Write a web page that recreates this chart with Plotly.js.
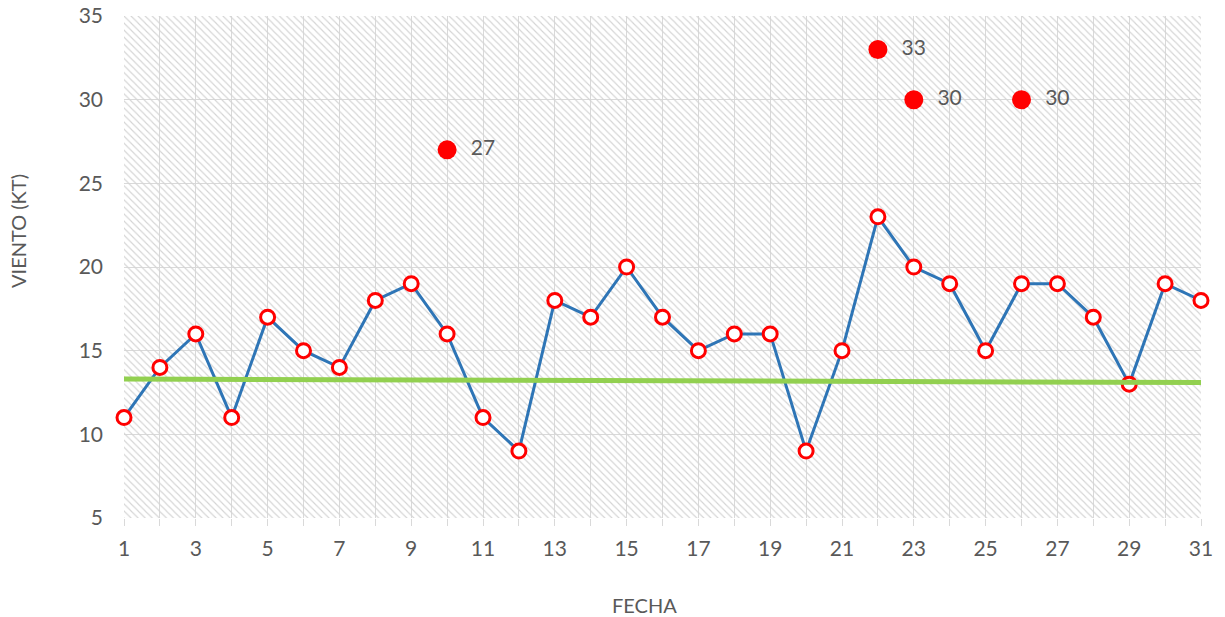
<!DOCTYPE html>
<html>
<head>
<meta charset="utf-8">
<script src="https://cdn.plot.ly/plotly-3.0.1.min.js"></script>
<style>html,body{margin:0;padding:0;background:#fff;}#chart{width:1225px;height:617px;}</style>
</head>
<body>
<div id="chart"></div>
<script>
// Data
const dias = [1,2,3,4,5,6,7,8,9,10,11,12,13,14,15,16,17,18,19,20,21,22,23,24,25,26,27,28,29,30,31];
const viento = [11,14,16,11,17,15,14,18,19,16,11,9,18,17,20,17,15,16,16,9,15,23,20,19,15,19,19,17,13,19,18];
const rachasDia = [10,22,23,26];
const rachas = [27,33,30,30];
const tendenciaX = [1,31.28];
const tendencia = [13.3,13.1];
const xRange = [1,31];
const yRange = [5,35];
const xTitulo = 'FECHA';
const yTitulo = 'VIENTO (KT)';

const grey = '#595959';
const fontFam = 'Lato, "Open Sans", sans-serif';

const hatch = {
  x: [xRange[0], xRange[1], xRange[1], xRange[0], xRange[0]],
  y: [yRange[0], yRange[0], yRange[1], yRange[1], yRange[0]],
  mode: 'lines', line: {width: 0}, fill: 'toself',
  fillcolor: 'rgba(0,0,0,0)',
  fillpattern: {shape: '\\', fgcolor: '#d4d4d4', size: 5, solidity: 0.22},
  hoverinfo: 'skip', showlegend: false
};

const serie = {
  x: dias, y: viento, mode: 'lines+markers',
  line: {color: '#2E75B6', width: 3},
  marker: {symbol: 'circle', size: 14, color: '#ffffff', line: {color: '#ff0000', width: 3}},
  showlegend: false, cliponaxis: false
};

const rach = {
  x: rachasDia, y: rachas, mode: 'markers+text',
  text: rachas.map(v => '\u00a0\u00a0' + v), textposition: 'middle right',
  textfont: {family: fontFam, size: 21, color: grey},
  marker: {symbol: 'circle', size: 19, color: '#ff0000'},
  showlegend: false, cliponaxis: false
};

const trend = {
  x: tendenciaX, y: tendencia, mode: 'lines', xaxis: 'x2', yaxis: 'y',
  line: {color: '#92D050', width: 5},
  showlegend: false, hoverinfo: 'skip'
};

const plotW = 1225 - 124 - 14;
const mainFrac = (1201 - 124) / plotW;

const layout = {
  width: 1225, height: 617,
  margin: {l: 124, r: 14, t: 16, b: 99},
  paper_bgcolor: '#ffffff', plot_bgcolor: '#ffffff',
  font: {family: fontFam, color: grey},
  xaxis: {
    domain: [0, mainFrac], range: xRange,
    tick0: 1, dtick: 2, showgrid: true, gridcolor: '#d9d9d9', gridwidth: 1,
    ticks: 'outside', ticklen: 7, tickcolor: '#d9d9d9', tickwidth: 1,
    minor: {dtick: 1, showgrid: true, gridcolor: '#d9d9d9', ticks: 'outside', ticklen: 7, tickcolor: '#d9d9d9'},
    tickfont: {size: 21, color: grey}, ticklabelstandoff: 5,
    zeroline: false, showline: false
  },
  xaxis2: {
    domain: [0, 1], range: [xRange[0], xRange[0] + (xRange[1]-xRange[0]) / mainFrac],
    overlaying: 'x', visible: false, showgrid: false
  },
  yaxis: {
    range: yRange, dtick: 5, showgrid: true, gridcolor: '#d9d9d9', gridwidth: 1,
    ticks: '', tickfont: {size: 21, color: grey}, ticklabelstandoff: 20,
    zeroline: false, showline: false
  },
  annotations: [
    {text: xTitulo, xref: 'paper', yref: 'paper', x: (644 - 124) / plotW, y: -(605 - 518) / (617 - 16 - 99),
     xanchor: 'center', yanchor: 'middle', showarrow: false, font: {size: 20, color: grey}},
    {text: yTitulo, xref: 'paper', yref: 'paper', x: -(124 - 18) / plotW, y: (518 - 231) / (617 - 16 - 99),
     xanchor: 'center', yanchor: 'middle', textangle: -90, showarrow: false, font: {size: 20, color: grey}}
  ],
  showlegend: false
};

Plotly.newPlot('chart', [hatch, serie, rach, trend], layout, {displayModeBar: false, staticPlot: true});
</script>
</body>
</html>
